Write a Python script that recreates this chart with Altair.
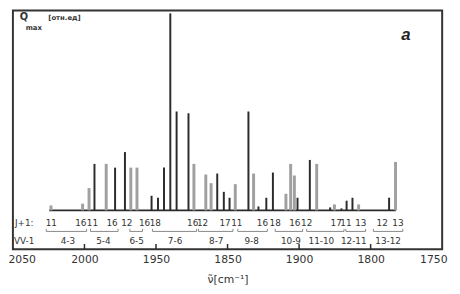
import altair as alt
import pandas as pd

# ---- spectral lines: position (cm^-1), relative intensity, shading ----
wavenumber = [2023.4, 2001.3, 1996.8, 1993.0, 1984.8, 1978.6, 1971.7, 1967.6, 1963.3,
              1953.1, 1948.6, 1944.4, 1940.0, 1935.6, 1927.3, 1923.5, 1915.2, 1911.5,
              1907.2, 1902.6, 1898.6, 1894.6, 1885.4, 1881.8, 1878.4, 1872.9, 1868.3,
              1859.2, 1855.9, 1853.3, 1851.1, 1842.5, 1837.7, 1828.3, 1825.3, 1820.4,
              1816.8, 1812.7, 1808.4, 1787.1, 1782.6]
intensity = [2.5, 3.4, 11.3, 23.6, 23.6, 21.7, 29.6, 21.7, 21.7,
             7.4, 6.4, 21.7, 100.0, 50.2, 49.3, 23.6, 18.2, 13.8,
             18.7, 9.4, 6.4, 13.3, 50.2, 18.7, 2.0, 6.4, 19.2,
             8.4, 23.6, 17.7, 6.4, 25.6, 23.6, 1.5, 3.0, 1.0,
             4.9, 6.4, 3.0, 6.4, 24.6]
shade = ["g", "g", "g", "d", "g", "d", "d", "g", "g",
         "d", "d", "d", "d", "d", "d", "g", "g", "g",
         "d", "d", "d", "g", "d", "g", "d", "d", "d",
         "g", "g", "g", "d", "d", "g", "d", "g", "d",
         "d", "d", "g", "d", "g"]

baseline_span = [2024.6, 1782.3]

# ---- J+1 labels (row 1) ----
j_labels = ["11", "16", "11", "16", "12", "16", "18", "16", "12", "17",
            "11", "16", "18", "16", "12", "17", "11", "13", "12", "13"]
j_pos = [2023.2, 2002.6, 1994.4, 1980.7, 1970.4, 1958.0, 1950.5, 1924.4, 1917.5, 1901.7,
         1893.5, 1875.6, 1866.7, 1853.0, 1844.7, 1824.1, 1817.3, 1806.9, 1791.9, 1780.9]

# ---- vibrational bands (row 2/3) ----
band_labels = ["4-3", "5-4", "6-5", "7-6", "8-7", "9-8", "10-9", "11-10", "12-11", "13-12"]
band_pos = [2011.6, 1986.8, 1963.5, 1936.7, 1907.9, 1883.2, 1855.7, 1834.4, 1811.8, 1787.8]
band_start = [2026.7, 1995.8, 1968.3, 1952.5, 1920.3, 1892.8, 1866.7, 1844.7, 1817.3, 1798.1]
band_end = [1998.5, 1976.5, 1959.4, 1921.6, 1896.2, 1872.2, 1847.5, 1818.6, 1803.5, 1777.5]

tick_values = [2050, 2000, 1950, 1900, 1850, 1800, 1750]

# row heights (in intensity units)
Y_MIN, Y_MAX = -19.7, 101.5
ROW_J, ROW_BR_LO, ROW_BR_HI, ROW_V = -6.2, -10.7, -9.4, -15.7

xscale = alt.Scale(domain=[1750, 2050], reverse=True, nice=False, zero=False)
yscale = alt.Scale(domain=[Y_MIN, Y_MAX], nice=False, zero=False)
xaxis = alt.Axis(values=tick_values, title="ν̃[cm⁻¹]", format="d",
                 labelFlush=True, labelFlushOffset=5,
                 labelExpr="datum.value == 1900 ? '1850' : datum.value == 1850 ? '1900' : datum.label",
                 labelPadding=5, titlePadding=9, domain=False, ticks=False, grid=False)


def X(field):
    return alt.X(field, type="quantitative", scale=xscale, axis=xaxis)


def Y(field):
    return alt.Y(field, type="quantitative", scale=yscale, axis=None)


lines = pd.DataFrame({"wn": wavenumber, "q": intensity, "shade": shade})
lines["zero"] = 0.0

bars = alt.Chart(lines).mark_rule().encode(
    x=X("wn"), y=Y("zero"), y2="q:Q",
    color=alt.Color("shade:N", scale=alt.Scale(domain=["d", "g"], range=["#2b2b2b", "#a0a0a0"]), legend=None),
    strokeWidth=alt.StrokeWidth("shade:N", scale=alt.Scale(domain=["d", "g"], range=[2, 3]), legend=None),
)

base_df = pd.DataFrame({"x1": [baseline_span[0]], "x2": [baseline_span[1]], "y": [0.0]})
baseline = alt.Chart(base_df).mark_rule(color="#2b2b2b", strokeWidth=2).encode(
    x=X("x1"), x2="x2:Q", y=Y("y"))

tick_df = pd.DataFrame({"t": tick_values[1:-1], "y0": Y_MIN, "y1": Y_MIN + 2.6})
ticks = alt.Chart(tick_df).mark_rule(color="#2b2b2b", strokeWidth=1.5).encode(
    x=X("t"), y=Y("y0"), y2="y1:Q")

# bracket lines under each band
rows = []
for i, (a, b) in enumerate(zip(band_start, band_end)):
    for k, (xx, yy) in enumerate([(a, ROW_BR_HI), (a, ROW_BR_LO), (b, ROW_BR_LO), (b, ROW_BR_HI)]):
        rows.append({"g": i, "o": k, "x": xx, "y": yy})
br_df = pd.DataFrame(rows)
brackets = alt.Chart(br_df).mark_line(color="#888888", strokeWidth=1).encode(
    x=X("x"), y=Y("y"), detail="g:N", order="o:Q")

jt_df = pd.DataFrame({"x": j_pos, "t": j_labels, "y": ROW_J})
jtext = alt.Chart(jt_df).mark_text(font="DejaVu Sans", fontSize=9, color="#333333",
                                   align="center", baseline="middle").encode(
    x=X("x"), y=Y("y"), text="t:N")

vt_df = pd.DataFrame({"x": band_pos, "t": band_labels, "y": ROW_V})
vtext = alt.Chart(vt_df).mark_text(font="DejaVu Sans", fontSize=9, color="#333333",
                                   align="center", baseline="middle").encode(
    x=X("x"), y=Y("y"), text="t:N")

row_df = pd.DataFrame({"x": [2048.6, 2049.3], "t": ["J+1:", "VV-1"], "y": [ROW_J, ROW_V]})
rowtext = alt.Chart(row_df).mark_text(font="DejaVu Sans", fontSize=9, color="#333333",
                                      align="left", baseline="middle").encode(
    x=X("x"), y=Y("y"), text="t:N")

ql_df = pd.DataFrame({"x": [2045.2, 2041.1, 2025.3], "t": ["Q", "max", "[отн.ед]"],
                      "y": [98.0, 92.8, 97.5], "fs": [10, 7, 7]})
qlabel = alt.Chart(ql_df).mark_text(font="DejaVu Sans", fontWeight="bold", color="#333333",
                                    align="left", baseline="middle").encode(
    x=X("x"), y=Y("y"), text="t:N", size=alt.Size("fs:Q", scale=None, legend=None))

a_df = pd.DataFrame({"x": [1775.4], "y": [89.2], "t": ["a"]})
alabel = alt.Chart(a_df).mark_text(font="Liberation Sans", fontSize=17, fontWeight="bold",
                                   fontStyle="italic", color="#222222",
                                   align="center", baseline="middle").encode(
    x=X("x"), y=Y("y"), text="t:N")

chart = alt.layer(baseline, bars, ticks, brackets, jtext, vtext, rowtext, qlabel, alabel).properties(
    width=437, height=243,
    padding={"left": 5, "top": 0, "right": 10, "bottom": 35},
    autosize=alt.AutoSizeParams(type="none"),
).configure_view(
    stroke="#333333", strokeWidth=2
).configure_axis(
    labelFont="DejaVu Sans", labelFontSize=11, labelColor="#333333",
    titleFont="DejaVu Sans", titleFontSize=11, titleFontWeight="normal", titleColor="#333333",
)

chart.save("out.html", embed_options={"renderer": "svg", "actions": False})
